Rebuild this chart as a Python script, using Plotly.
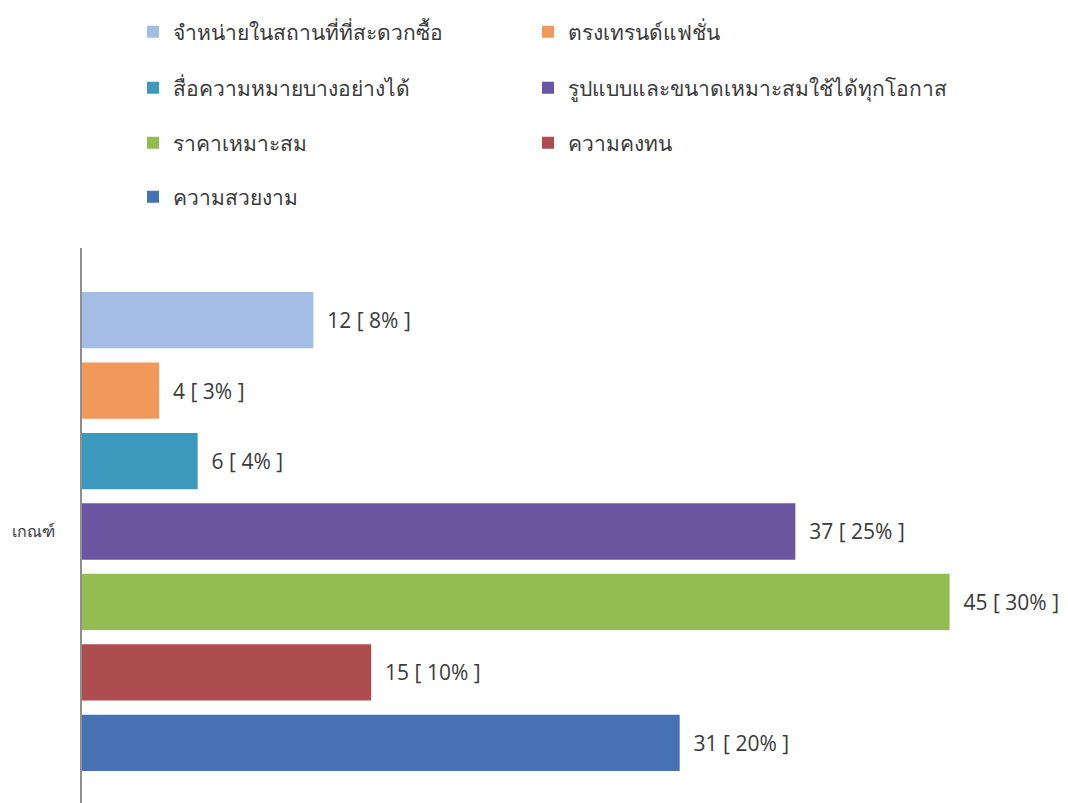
import plotly.graph_objects as go

category = ["เกณฑ์"]

# series listed bottom-to-top as plotly stacks horizontal groups
names = [
    "ความสวยงาม",
    "ความคงทน",
    "ราคาเหมาะสม",
    "รูปแบบและขนาดเหมาะสมใช้ได้ทุกโอกาส",
    "สื่อความหมายบางอย่างได้",
    "ตรงเทรนด์แฟชั่น",
    "จำหน่ายในสถานที่ที่สะดวกซื้อ",
]
counts = [31, 15, 45, 37, 6, 4, 12]
percents = [20, 10, 30, 25, 4, 3, 8]
colors = ["#4672b3", "#ad4d4f", "#93bd50", "#6b56a2", "#3d98bd", "#f0995a", "#a3bde5"]

H = 803
W = 1068
# legend grid: (column x, row y) in pixels for each series
col_x = [133, 528]
row_y = [32, 88, 143, 197]
legend_spots = [
    (col_x[0], row_y[3]),
    (col_x[1], row_y[2]),
    (col_x[0], row_y[2]),
    (col_x[1], row_y[1]),
    (col_x[0], row_y[1]),
    (col_x[1], row_y[0]),
    (col_x[0], row_y[0]),
]

fig = go.Figure()
legend_layout = {}
for i, (n, c, p, col) in enumerate(zip(names, counts, percents, colors)):
    key = "legend" if i == 0 else f"legend{i + 1}"
    fig.add_trace(go.Bar(
        y=category, x=[c], name=n, orientation="h",
        marker=dict(color=col, line=dict(width=0)),
        text=[f"\u00a0\u00a0{c} [ {p}% ]"],
        textposition="outside",
        textfont=dict(size=21, color="#3a3a3a", family="Open Sans, sans-serif"),
        cliponaxis=False,
        legend=key,
    ))
    px, py = legend_spots[i]
    legend_layout[key] = dict(
        orientation="h",
        font=dict(size=21, color="#3a3a3a", family="Noto Sans, sans-serif"),
        bgcolor="rgba(0,0,0,0)", xanchor="left", yanchor="middle",
        x=px / W, xref="container", y=1 - py / H, yref="container",
        itemwidth=30,
    )

fig.update_layout(
    width=W, height=H,
    paper_bgcolor="white", plot_bgcolor="white",
    barmode="group", bargap=0.1, bargroupgap=0.2,
    margin=dict(l=82, r=22, t=248, b=0),
    showlegend=True,
    xaxis=dict(range=[0, 50], showgrid=False, zeroline=False, showticklabels=False,
               showline=False, fixedrange=True),
    yaxis=dict(range=[-0.4956, 0.5175], showline=True, linecolor="#8f8f8f", linewidth=1.5,
               ticks="", showgrid=False, ticklabelstandoff=22,
               tickfont=dict(size=16, color="#3a3a3a", family="Noto Sans, sans-serif")),
    **legend_layout,
)

fig.write_html("out.html")
